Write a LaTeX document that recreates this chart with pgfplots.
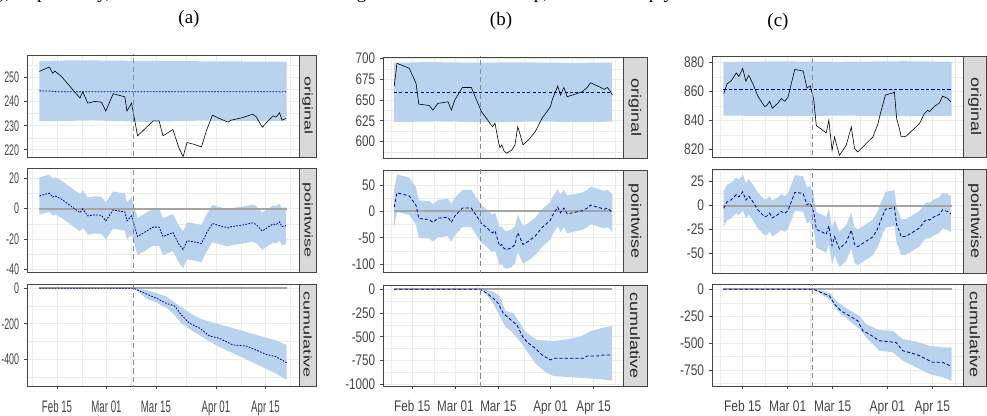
\documentclass[border=0pt]{standalone}
\usepackage{fontspec}
\setmainfont{Liberation Serif}
\newfontfamily\fs{Liberation Sans}
\newfontfamily\fa[FakeStretch=0.58]{Liberation Sans}
\newfontfamily\fb[FakeStretch=0.76]{Liberation Sans}
\newfontfamily\fc[FakeStretch=0.78]{Liberation Sans}
\usepackage{graphicx}
\usepackage{pgfplots}
\usepackage{pgfplotstable}
\usepgfplotslibrary{fillbetween}
\pgfplotsset{compat=1.18}
\definecolor{band}{HTML}{B9D3EE}
\definecolor{mline}{HTML}{00008B}
\definecolor{zl}{HTML}{A4A4A4}
\definecolor{tk}{HTML}{444444}
\definecolor{fr}{HTML}{444444}
\definecolor{gr}{HTML}{EBEBEB}
\definecolor{st}{HTML}{D9D9D9}

\pgfplotstableread{
d orig pw lo hi
-5 252.6 8.4 -3.9 20.6
-2.2 254.4 10.2 -2.1 22.4
-1.2 251.8 7.6 -4.7 19.8
-0.6 252.7 8.5 -3.8 20.7
1.3 250.4 6.2 -6.1 18.4
6.5 241.5 -2.7 -15.0 9.5
7.3 244.1 -0.1 -12.4 12.1
8.7 239.4 -4.8 -17.1 7.4
10.7 240.1 -4.1 -16.4 8.1
12.6 239.8 -4.4 -16.7 7.8
13.8 236.1 -8.1 -20.4 4.1
15.9 243.3 -0.9 -13.2 11.3
19.2 242.0 -2.2 -14.5 10.0
19.8 236.1 -8.1 -20.4 4.1
21.1 239.4 -4.8 -17.1 7.4
22.8 225.8 -18.4 -30.7 -6.2
27.2 232.0 -12.2 -24.5 0.0
28.9 232.0 -12.2 -24.5 0.0
30 225.8 -18.4 -30.7 -6.2
32.8 228.4 -15.8 -28.1 -3.6
34.5 220.8 -23.4 -35.7 -11.2
35.7 217.2 -27.0 -39.3 -14.8
36.8 223.0 -21.2 -33.5 -9.0
38.7 222.3 -21.9 -34.2 -9.7
40.9 221.2 -23.0 -35.3 -10.8
42.3 228.0 -16.2 -28.5 -4.0
44 234.4 -9.8 -22.1 2.4
45.5 233.3 -10.9 -23.2 1.3
48.4 231.5 -12.7 -25.0 -0.5
49.3 232.3 -11.9 -24.2 0.3
52.6 233.4 -10.8 -23.1 1.4
55.4 234.8 -9.4 -21.7 2.8
56.4 233.7 -10.5 -22.8 1.7
58.1 229.4 -14.8 -27.1 -2.6
61.1 234.1 -10.1 -22.4 2.1
62 233.6 -10.6 -22.9 1.6
63 235.4 -8.8 -21.1 3.4
63.7 232.3 -11.9 -24.2 0.3
64.8 233.0 -11.2 -23.5 1.0
}\tA

\pgfplotstableread{
d orig pw lo hi
-5.9 666.7 8.0 -28.3 42.7
-5.0 694 35.3 -1.0 70.0
-1.5 688.8 30.1 -6.2 64.8
-1.0 688 29.3 -7.0 64.0
1.2 670 11.3 -25.0 46.0
2.1 645 -13.7 -50.0 21.0
5.5 643.4 -15.3 -51.6 19.4
6.7 637.8 -20.9 -57.2 13.8
8.3 645.8 -12.9 -49.2 21.8
11.6 647.8 -10.9 -47.2 23.8
12.7 637.8 -20.9 -57.2 13.8
13.8 649.8 -8.9 -45.2 25.8
16.3 665 6.3 -30.0 41.0
19.2 665 6.3 -30.0 41.0
20.9 649.8 -8.9 -45.2 25.8
22.5 635.9 -22.8 -59.1 11.9
24.7 625 -33.7 -70.0 1.0
25.2 622 -36.7 -73.0 -2.0
26.1 617.9 -40.8 -77.1 -6.1
26.9 622 -36.7 -73.0 -2.0
28.0 600 -58.7 -95.0 -24.0
28.5 592.7 -66.0 -102.3 -31.3
29.1 596 -62.7 -99.0 -28.0
29.8 588.7 -70.0 -106.3 -35.3
30.7 586 -72.7 -109.0 -38.0
32.4 590 -68.7 -105.0 -34.0
33.4 596 -62.7 -99.0 -28.0
34.3 617.9 -40.8 -77.1 -6.1
35.1 608 -50.7 -87.0 -16.0
36.0 596 -62.7 -99.0 -28.0
37.8 602 -56.7 -93.0 -22.0
40.0 612 -46.7 -83.0 -12.0
41.1 620 -38.7 -75.0 -4.0
42.2 628 -30.7 -67.0 4.0
43.8 636 -22.7 -59.0 12.0
44.9 641.8 -16.9 -53.2 17.8
45.5 650 -8.7 -45.0 26.0
47.3 666.7 8.0 -28.3 42.7
48.2 655.9 -2.8 -39.1 31.9
49.3 665 6.3 -30.0 41.0
50.4 653.9 -4.8 -41.1 29.9
53.7 657.9 -0.8 -37.1 33.9
55.3 659.9 1.2 -35.1 35.9
56.9 665 6.3 -30.0 41.0
58.0 670.7 12.0 -24.3 46.7
61.3 665 6.3 -30.0 41.0
62.4 662.7 4.0 -32.3 38.7
63.5 665 6.3 -30.0 41.0
64.3 661 2.3 -34.0 37.0
65.1 655.9 -2.8 -39.1 31.9
}\tB

\pgfplotstableread{
d orig pw lo hi
-5.9 858.3 -2.9 -22.2 15.2
-4.9 865 3.8 -15.5 21.9
-3.5 867.4 6.2 -13.1 24.3
-2.0 872.6 11.4 -7.9 29.5
-1.2 870.2 9.0 -10.3 27.1
0.0 875.7 14.5 -4.8 32.6
1.0 866.9 5.7 -13.6 23.8
1.9 871 9.8 -9.5 27.9
3.2 865 3.8 -15.5 21.9
4.7 856.7 -4.5 -23.8 13.6
6.8 849.5 -11.7 -31.0 6.4
7.5 850.2 -11.0 -30.3 7.1
8.4 853.1 -8.1 -27.4 10.0
9.2 848.3 -12.9 -32.2 5.2
11 851.9 -9.3 -28.6 8.8
12 855 -6.2 -25.5 11.9
13.1 853.1 -8.1 -27.4 10.0
14.1 856 -5.2 -24.5 12.9
15.1 865 3.8 -15.5 21.9
16.2 875 13.8 -5.5 31.9
18.8 874 12.8 -6.5 30.9
20 862.2 1.0 -18.3 19.1
21 863.8 2.6 -16.7 20.7
22.1 854.3 -6.9 -26.2 11.2
22.9 836.4 -24.8 -44.1 -6.7
26.0 831.3 -29.9 -49.2 -11.8
26.8 840 -21.2 -40.5 -3.1
27.8 819.3 -41.9 -61.2 -23.8
28.6 828.5 -32.7 -52.0 -14.6
29.1 823.9 -37.3 -56.6 -19.2
30.1 815.9 -45.3 -64.6 -27.2
32.2 822.8 -38.4 -57.7 -20.3
33.8 835.4 -25.8 -45.1 -7.7
34.8 820.5 -40.7 -60.0 -22.6
35.8 818.2 -43.0 -62.3 -24.9
38.4 823.9 -37.3 -56.6 -19.2
40.5 828.5 -32.7 -52.0 -14.6
42 837 -24.2 -43.5 -6.1
43 846 -15.2 -34.5 2.9
44.4 857.4 -3.8 -23.1 14.3
46.7 858.8 -2.4 -21.7 15.7
47.2 859.5 -1.7 -21.0 16.4
47.9 841.2 -20.0 -39.3 -1.9
48.8 834 -27.2 -46.5 -9.1
49.3 828.5 -32.7 -52.0 -14.6
50.8 829 -32.2 -51.5 -14.1
53.4 834.3 -26.9 -46.2 -8.8
55 837.7 -23.5 -42.8 -5.4
56.5 844.6 -16.6 -35.9 1.5
57.6 846.9 -14.3 -33.6 3.8
58.1 846 -15.2 -34.5 2.9
59.6 849.5 -11.7 -31.0 6.4
61.2 851.9 -9.3 -28.6 8.8
62.2 856.7 -4.5 -23.8 13.6
63.8 855 -6.2 -25.5 11.9
64.8 852.6 -8.6 -27.9 9.5
}\tC

\pgfplotsset{
  ci/.style={scale only axis, clip=true, grid=both,
    major grid style={draw=gr, line width=0.55pt},
    minor grid style={draw=gr, line width=0.3pt},
    axis line style={draw=fr, line width=0.5pt},
    tick align=outside, major tick length=2.4pt, minor tick length=0pt,
    tick style={draw=fr, line width=0.5pt},
    xtick pos=left, ytick pos=left,
    xtick={0,14,28,45,59}, minor xtick={-7,7,21,36.5,52,66},
    tick label style={text=tk},
    anchor=north west},
  top/.style={xticklabels={}, xtick style={draw=none}},
  bot/.style={xticklabels={Feb 15,Mar 01,Mar 15,Apr 01,Apr 15},
    xticklabel style={yshift=-5pt}},
  colA/.style={ci, xmin=-8.5, xmax=68.5, width=204pt,
    yticklabel style={font=\fa\fontsize{11.5}{12}\selectfont},
    xticklabel style={font=\fa\fontsize{12.5}{13}\selectfont}},
  colB/.style={ci, xmin=-9.55, xmax=68.55, width=180pt,
    yticklabel style={font=\fb\fontsize{11.5}{12}\selectfont},
    xticklabel style={font=\fb\fontsize{11.5}{12}\selectfont}},
  colC/.style={ci, xmin=-9.55, xmax=68.55, width=188.25pt,
    yticklabel style={font=\fc\fontsize{11.5}{12}\selectfont},
    xticklabel style={font=\fc\fontsize{11.5}{12}\selectfont}},
  orig/.style={black, line width=0.45pt},
  meanA/.style={mline, line width=0.6pt, dash pattern=on 1.3pt off 1pt},
  mean/.style={mline, line width=0.6pt, dash pattern=on 2.4pt off 1.6pt},
  zero/.style={zl, line width=1.5pt},
  vl/.style={zl!85!black, line width=0.65pt, dash pattern=on 3.8pt off 2.5pt},
}

\newcommand\strip[6]{%
  \draw[fill=st, draw=fr, line width=0.5pt] (#1,#3) rectangle (#2,#4);
  \node[inner sep=0pt] at ({(#1+#2)/2},{(#3+#4)/2})
    {\rotatebox{-90}{\scalebox{1}[#5]{\color{black!85}\fs\fontsize{13.5}{14}\selectfont #6}}};}

\begin{document}
\begin{tikzpicture}
\path (0pt,0pt) rectangle (740.25pt,-312pt);

% ================= (a) =================
\begin{axis}[colA, top, at={(20.25pt,-41.25pt)}, height=76.5pt,
  ymin=217, ymax=259.4, ytick={220,230,240,250}, yticklabels={220,230,240,250},
  minor ytick={215,225,235,245,255}]
\addplot[name path=aoU, draw=none] coordinates {(-5,256.9)(5,257.2)(20,257.0)(40,256.8)(65,256.6)};
\addplot[name path=aoL, draw=none] coordinates {(-5,231.8)(10,232.2)(25,231.6)(40,232.1)(65,231.9)};
\addplot[fill=band, draw=none] fill between[of=aoU and aoL];
\addplot[meanA] coordinates {(-5,244.5)(-2,244.4)(0,244.1)(65,244.1)};
\addplot[orig] table[x=d,y=orig]{\tA};
\addplot[vl] coordinates {(21.7,200)(21.7,300)};
\end{axis}

\begin{axis}[colA, top, at={(20.25pt,-126pt)}, height=78pt,
  ymin=-41.8, ymax=26.8, ytick={-40,-20,0,20}, yticklabels={-40,-20,0,20},
  minor ytick={-30,-10,10}]
\addplot[name path=apU, draw=none] table[x=d,y=hi]{\tA};
\addplot[name path=apL, draw=none] table[x=d,y=lo]{\tA};
\addplot[fill=band, draw=none] fill between[of=apU and apL];
\addplot[zero] coordinates {(-5,0)(65,0)};
\addplot[meanA] table[x=d,y=pw]{\tA};
\addplot[vl] coordinates {(21.7,-100)(21.7,100)};
\end{axis}

\begin{axis}[colA, bot, at={(20.25pt,-213pt)}, height=76.5pt,
  ymin=-550, ymax=24, ytick={-400,-200,0}, yticklabels={-400,-200,0},
  minor ytick={-500,-300,-100}]
\addplot[name path=acU, draw=none] coordinates {(-5,0)(21.7,0)(25.3,-10)(28.1,-27)(31,-47)(33.3,-80)(35.2,-105)(37.5,-137)(40.4,-170)(43.2,-187)(46,-203)(49.8,-224)(53.6,-246)(56.4,-262)(59.2,-278)(62,-293)(65,-319)};
\addplot[name path=acL, draw=none] coordinates {(-5,0)(21.7,0)(25.3,-58)(28.1,-80)(31,-110)(33.3,-150)(35.2,-198)(37.5,-230)(40.4,-265)(43.2,-300)(46,-330)(49.8,-365)(53.6,-400)(56.4,-427)(59.2,-453)(62,-480)(65,-516)};
\addplot[fill=band, draw=none] fill between[of=acU and acL];
\addplot[zero] coordinates {(-5,0)(65,0)};
\addplot[meanA] coordinates {(-5,0)(21.7,0)(25.3,-32)(28.1,-56)(31,-85)(33.3,-100)(35.2,-150)(37.5,-197)(40.4,-225)(43.2,-269)(46,-282)(49.8,-319)(53.6,-325)(56.4,-348)(59.2,-372)(62,-385)(65,-419)};
\addplot[vl] coordinates {(21.7,-1000)(21.7,100)};
\end{axis}

% ================= (b) =================
\begin{axis}[colB, top, at={(287.25pt,-42.75pt)}, height=75.75pt,
  ymin=580.3, ymax=701.6, ytick={600,625,650,675,700}, yticklabels={600,625,650,675,700},
  minor ytick={587.5,612.5,637.5,662.5,687.5}]
\addplot[name path=boU, draw=none] coordinates {(-6,694.5)(5,695.5)(20,694.8)(35,695.2)(50,694.6)(65,694.8)};
\addplot[name path=boL, draw=none] coordinates {(-6,623.5)(8,624.2)(25,623.3)(40,624)(55,623.6)(65,623.9)};
\addplot[fill=band, draw=none] fill between[of=boU and boL];
\addplot[mean] coordinates {(-6,658.7)(65,658.7)};
\addplot[orig] table[x=d,y=orig]{\tB};
\addplot[vl] coordinates {(22,500)(22,800)};
\end{axis}

\begin{axis}[colB, top, at={(287.25pt,-127.5pt)}, height=76.5pt,
  ymin=-115, ymax=78.5, ytick={-100,-50,0,50}, yticklabels={-100,-50,0,50},
  minor ytick={-75,-25,25,75}]
\addplot[name path=bpU, draw=none] table[x=d,y=hi]{\tB};
\addplot[name path=bpL, draw=none] table[x=d,y=lo]{\tB};
\addplot[fill=band, draw=none] fill between[of=bpU and bpL];
\addplot[zero] coordinates {(-6,0)(65,0)};
\addplot[mean] table[x=d,y=pw]{\tB};
\addplot[vl] coordinates {(22,-200)(22,200)};
\end{axis}

\begin{axis}[colB, bot, at={(287.25pt,-213.75pt)}, height=75.75pt,
  ymin=-1018, ymax=45, ytick={-1000,-750,-500,-250,0}, yticklabels={-1000,-750,-500,-250,0},
  minor ytick={-875,-625,-375,-125}]
\addplot[name path=bcU, draw=none] coordinates {(-6,0)(22.1,0)(24.2,-10)(26.3,-25)(28.5,-77)(30.2,-225)(32.9,-253)(35.1,-358)(36.7,-446)(40.5,-533)(46,-544)(50.4,-526)(54.8,-498)(58,-439)(61.3,-411)(65,-386)};
\addplot[name path=bcL, draw=none] coordinates {(-6,0)(22.1,0)(24.2,-60)(26.3,-147)(28.5,-288)(30.2,-393)(32.3,-446)(35.1,-551)(37.3,-656)(40.5,-797)(43.8,-884)(46,-912)(51.5,-926)(56.9,-937)(61.3,-947)(65,-961)};
\addplot[fill=band, draw=none] fill between[of=bcU and bcL];
\addplot[zero] coordinates {(-6,0)(65,0)};
\addplot[mean] coordinates {(-6,0)(22.1,0)(24.2,-42)(26.3,-95)(27.9,-147)(29.6,-253)(31.8,-316)(34,-375)(36.2,-516)(37.8,-568)(40,-621)(42.2,-691)(44.9,-744)(46,-726)(55.8,-726)(56.9,-702)(60.2,-702)(62.4,-691)(65,-691)};
\addplot[vl] coordinates {(22,-2000)(22,200)};
\end{axis}

% ================= (c) =================
\begin{axis}[colC, top, at={(534pt,-42pt)}, height=75.75pt,
  ymin=814.7, ymax=884.3, ytick={820,840,860,880}, yticklabels={820,840,860,880},
  minor ytick={830,850,870}]
\addplot[name path=coU, draw=none] coordinates {(-6,880.2)(10,880.6)(30,880.3)(50,880.7)(65,880.4)};
\addplot[name path=coL, draw=none] coordinates {(-6,843.3)(12,842.8)(30,843.2)(50,842.9)(65,843.0)};
\addplot[fill=band, draw=none] fill between[of=coU and coL];
\addplot[mean] coordinates {(-6,861.2)(65,861.2)};
\addplot[orig] table[x=d,y=orig]{\tC};
\addplot[vl] coordinates {(21.8,700)(21.8,1000)};
\end{axis}

\begin{axis}[colC, top, at={(534pt,-126.75pt)}, height=78pt,
  ymin=-70.6, ymax=38.3, ytick={-50,-25,0,25}, yticklabels={-50,-25,0,25},
  minor ytick={-62.5,-37.5,-12.5,12.5,37.5}]
\addplot[name path=cpU, draw=none] table[x=d,y=hi]{\tC};
\addplot[name path=cpL, draw=none] table[x=d,y=lo]{\tC};
\addplot[fill=band, draw=none] fill between[of=cpU and cpL];
\addplot[zero] coordinates {(-6,0)(65,0)};
\addplot[mean] table[x=d,y=pw]{\tC};
\addplot[vl] coordinates {(21.8,-200)(21.8,200)};
\end{axis}

\begin{axis}[colC, bot, at={(534pt,-213pt)}, height=76.5pt,
  ymin=-899, ymax=49, ytick={-750,-500,-250,0}, yticklabels={-750,-500,-250,0},
  minor ytick={-875,-625,-375,-125}]
\addplot[name path=ccU, draw=none] coordinates {(-6,0)(22,0)(25.2,-15)(27.5,-46)(29.1,-108)(31.2,-154)(33.2,-194)(36.3,-247)(38.4,-324)(42.5,-380)(46.7,-386)(49.8,-463)(53.9,-485)(58.1,-525)(62.2,-540)(65,-540)};
\addplot[name path=ccL, draw=none] coordinates {(-6,0)(22,0)(25.2,-62)(27.5,-108)(29.1,-185)(31.2,-247)(33.2,-293)(36.3,-370)(38.4,-447)(42.5,-571)(46.7,-586)(49.8,-663)(53.9,-725)(58.1,-787)(62.2,-818)(65,-849)};
\addplot[fill=band, draw=none] fill between[of=ccU and ccL];
\addplot[zero] coordinates {(-6,0)(65,0)};
\addplot[mean] coordinates {(-6,0)(22,0)(25.2,-40)(27,-62)(28.6,-139)(30.6,-201)(33.2,-247)(35.8,-293)(37.4,-386)(39.4,-417)(42.5,-478)(45.6,-488)(47.7,-494)(49.8,-571)(52.9,-596)(55,-617)(57,-648)(59.1,-679)(62.2,-679)(65,-719)};
\addplot[vl] coordinates {(21.8,-2000)(21.8,200)};
\end{axis}

% ================= strips and titles =================
\begin{scope}[x=0.75pt, y=-0.75pt]
\strip{299}{316}{55}{157}{0.62}{original}
\strip{299}{316}{168}{272}{0.62}{pointwise}
\strip{299}{316}{284}{386}{0.62}{cumulative}
\strip{623}{647}{57}{158}{0.76}{original}
\strip{623}{647}{170}{272}{0.76}{pointwise}
\strip{623}{647}{285}{386}{0.76}{cumulative}
\strip{963}{986.5}{56}{157}{0.78}{original}
\strip{963}{986.5}{169}{273}{0.78}{pointwise}
\strip{963}{986.5}{284}{386}{0.78}{cumulative}
\node[font=\fontsize{14.25}{16}\selectfont] at (189,19) {(a)};
\node[font=\fontsize{14.25}{16}\selectfont] at (501,21) {(b)};
\node[font=\fontsize{14.25}{16}\selectfont] at (778,22) {(c)};
\end{scope}
\pgfresetboundingbox
\useasboundingbox (0pt,0pt) rectangle (740.25pt,-312pt);
\begin{scope}[x=0.75pt, y=-0.75pt]
\clip (0,0) rectangle (987,12);
\node[anchor=base west, inner sep=0pt, font=\fontsize{14.25}{16}\selectfont] at (-1,-1.5)
  {), respectively, and the three rows show the long-term effect of the drop, which is simply the};
\end{scope}
\end{tikzpicture}
\end{document}
